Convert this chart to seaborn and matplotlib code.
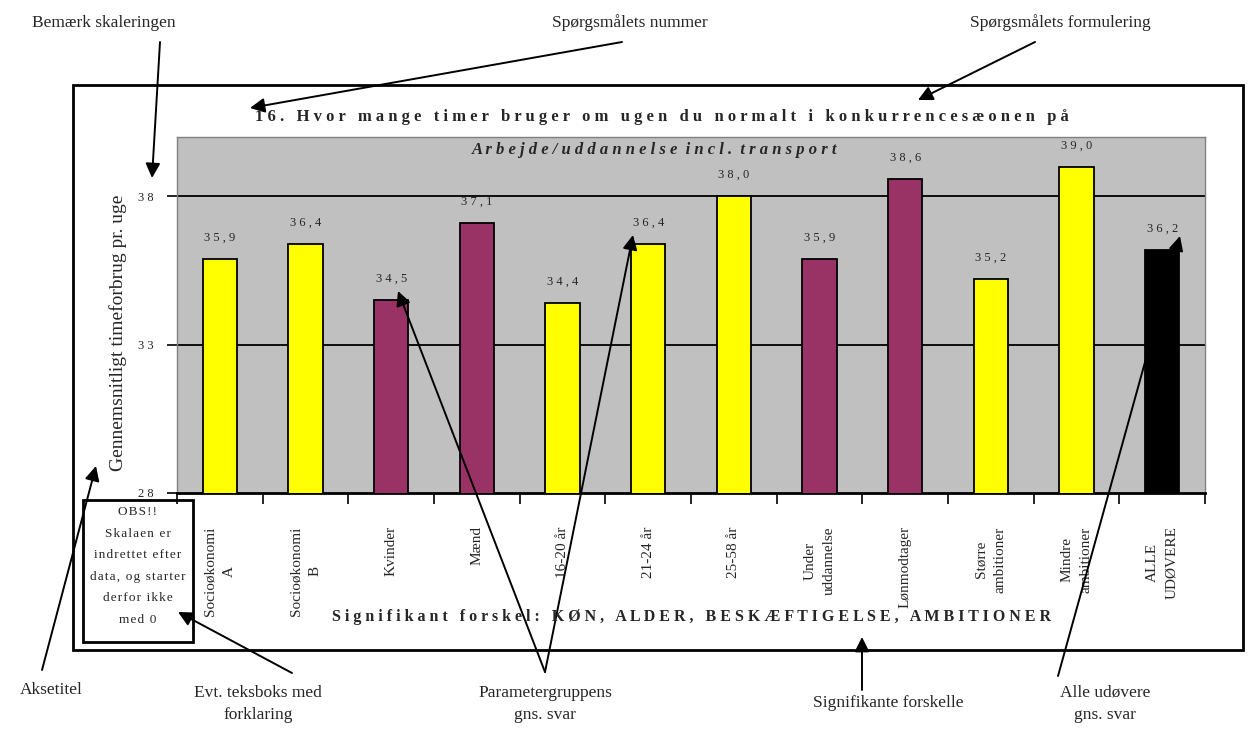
import numpy as np
import matplotlib
matplotlib.use("Agg")
import matplotlib.pyplot as plt
import matplotlib.patches as patches
import seaborn as sns

# data
categories = ["Socioøkonomi\nA", "Socioøkonomi\nB", "Kvinder", "Mænd", "16-20 år",
              "21-24 år", "25-58 år", "Under\nuddannelse", "Lønmodtager",
              "Større\nambitioner", "Mindre\nambitioner", "ALLE\nUDØVERE"]
values = [35.9, 36.4, 34.5, 37.1, 34.4, 36.4, 38.0, 35.9, 38.6, 35.2, 39.0, 36.2]
bar_colors = ["#FFFF00", "#FFFF00", "#993366", "#993366", "#FFFF00", "#FFFF00",
              "#FFFF00", "#993366", "#993366", "#FFFF00", "#FFFF00", "#000000"]
y_ticks = [28, 33, 38]

title = "16. Hvor mange timer bruger om ugen du normalt i konkurrencesæonen på"
subtitle = "Arbejde/uddannelse incl. transport"
footer = "Signifikant forskel: KØN, ALDER, BESKÆFTIGELSE, AMBITIONER"
y_label = "Gennemsnitligt timeforbrug pr. uge"
obs_lines = ["OBS!!", "Skalaen er", "indrettet efter", "data, og starter", "derfor ikke", "med 0"]

sns.set_theme(style="white")
plt.rcParams['font.family'] = ['Liberation Serif', 'DejaVu Serif']

W, H = 1255, 751


def px(x, y):
    """pixel position (top-left origin) -> figure fraction"""
    return (x / W, 1 - y / H)


def spaced(s, gap=" ", word_gap="   "):
    """fake letter spacing like the old Excel chart"""
    return word_gap.join(gap.join(w) for w in s.split(" "))


fig = plt.figure(figsize=(W / 100, H / 100), dpi=100)
fig.patch.set_facecolor("white")

left, top, right, bottom = 177, 137, 1205, 493
ax = fig.add_axes([left / W, 1 - bottom / H, (right - left) / W, (bottom - top) / H])
ax.set_facecolor("#C0C0C0")

sns.barplot(x=categories, y=values, hue=categories, palette=bar_colors, legend=False,
            width=0.4, edgecolor="black", linewidth=1.3, saturation=1, ax=ax, zorder=3)

ax.set_ylim(28, 40)
ax.set_xlim(-0.5, len(categories) - 0.5)
ax.set_yticks(y_ticks)
ax.set_yticklabels([spaced(str(t)) for t in y_ticks], fontsize=9)
for t in y_ticks[1:]:
    ax.axhline(t, color="black", lw=1.3, zorder=1)
ax.tick_params(axis="y", length=7, width=1.2, color="black", direction="out", pad=10, left=True)

ax.set_xticks(np.arange(len(categories) + 1) - 0.5, minor=True)
ax.tick_params(axis="x", which="minor", length=8, width=1.2, color="black", direction="out", bottom=True)
ax.tick_params(axis="x", which="major", length=0, pad=24)
ax.set_xticks(range(len(categories)))
ax.set_xticklabels(categories, rotation=90, fontsize=11, ha="center", va="top",
                   multialignment="center", linespacing=1.6)
ax.set_xlabel("")
ax.set_ylabel("")

for side in ["left", "top", "right"]:
    ax.spines[side].set_color("#808080")
    ax.spines[side].set_linewidth(1)
ax.spines["bottom"].set_color("black")
ax.spines["bottom"].set_linewidth(2)

# value labels
for i, v in enumerate(values):
    ax.annotate(spaced(f"{v:.1f}".replace(".", ",")), (i, v), xytext=(0, 11),
                textcoords="offset points", ha="center", va="bottom", fontsize=9, zorder=5)

# chart texts
fig.text(*px(662, 117), spaced(title), ha="center", va="center", fontsize=12, fontweight="bold")
fig.text(*px(655, 150), spaced(subtitle, word_gap="  "), ha="center", va="center",
         fontsize=12, fontweight="bold", style="italic")
fig.text(*px(692, 617), spaced(footer), ha="center", va="center", fontsize=11.5, fontweight="bold")
fig.text(*px(118, 333), y_label, ha="center", va="center", rotation=90, fontsize=14)

# outer frame of the chart
fig.add_artist(patches.Rectangle(px(73, 650), (1243 - 73) / W, (650 - 85) / H,
                                 transform=fig.transFigure, fill=False, lw=2, ec="black"))

# OBS box
fig.add_artist(patches.Rectangle(px(83, 642), (193 - 83) / W, (642 - 500) / H,
                                 transform=fig.transFigure, fill=False, lw=2, ec="black"))
for k, line in enumerate(obs_lines):
    fig.text(*px(138, 512 + 21.6 * k), spaced(line, gap="\u200a", word_gap="\u200a \u200a"),
             ha="center", va="center", fontsize=9.5)

# explanation labels around the chart
notes = [
    ("Bemærk skaleringen", (32, 23), "left"),
    ("Spørgsmålets nummer", (630, 23), "center"),
    ("Spørgsmålets formulering", (1060, 23), "center"),
    ("Aksetitel", (20, 690), "left"),
    ("Evt. teksboks med\nforklaring", (258, 704), "center"),
    ("Parametergruppens\ngns. svar", (545, 704), "center"),
    ("Signifikante forskelle", (888, 703), "center"),
    ("Alle udøvere\ngns. svar", (1105, 704), "center"),
]
for txt, pos, ha in notes:
    fig.text(*px(*pos), txt, ha=ha, va="center", fontsize=12.5, linespacing=1.55)

arrows = [
    ((160, 42), (152, 178)),
    ((622, 42), (250, 108)),
    ((1035, 42), (918, 100)),
    ((42, 670), (96, 466)),
    ((292, 673), (178, 612)),
    ((545, 672), (398, 291)),
    ((545, 672), (633, 235)),
    ((862, 690), (862, 637)),
    ((1058, 676), (1180, 236)),
]
for tail, head in arrows:
    ax.annotate("", xy=px(*head), xytext=px(*tail), xycoords="figure fraction",
                textcoords="figure fraction", annotation_clip=False,
                arrowprops=dict(arrowstyle="-|>", color="black", lw=1.4, mutation_scale=22,
                                shrinkA=0, shrinkB=0))

plt.savefig("out.png", dpi=100)
